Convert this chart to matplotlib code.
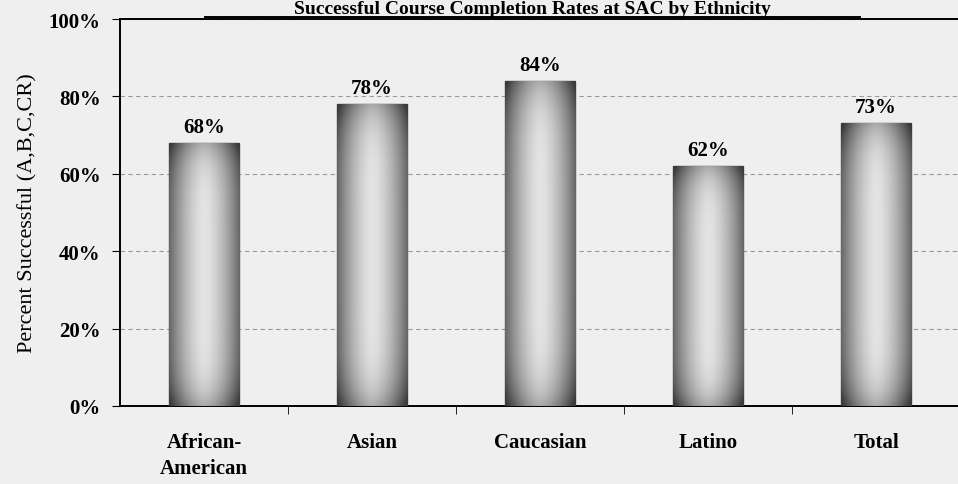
import matplotlib

matplotlib.use("Agg")

import matplotlib.pyplot as plt  # noqa: E402
import numpy as np  # noqa: E402
from matplotlib.colors import LinearSegmentedColormap  # noqa: E402

# ---- data ----------------------------------------------------------------
categories = ["African-\nAmerican", "Asian", "Caucasian", "Latino", "Total"]
success_rate = [68, 78, 84, 62, 73]
bar_labels = ["68%", "78%", "84%", "62%", "73%"]
y_ticks = [0, 20, 40, 60, 80, 100]

TITLE = "Successful Course Completion Rates at SAC by Ethnicity"
BG = "#efefef"
SERIF = ["Liberation Serif", "DejaVu Serif"]

plt.rcParams["font.family"] = SERIF

fig = plt.figure(figsize=(9.58, 4.85), dpi=100, facecolor=BG)
ax = fig.add_axes([120 / 958, 78 / 485, 840 / 958, 387 / 485])
ax.set_facecolor(BG)

x = np.arange(len(categories))
bars = ax.bar(x, success_rate, width=0.42, color="#9a9a9a",
              edgecolor="#4a4a4a", linewidth=1.0, zorder=3)

# shaded look: dark edges, pale centre (horizontal) and darker top/bottom
xs = np.linspace(-1, 1, 200)
ys = np.linspace(-1, 1, 200)
XX, YY = np.meshgrid(xs, ys)
shade = 1 - 0.75 * np.abs(XX) ** 1.6 - 0.35 * np.abs(YY) ** 6
cmap = LinearSegmentedColormap.from_list("bar", ["#3c3c3c", "#e4e4e4"])
for b in bars:
    x0, y0 = b.get_x(), b.get_y()
    im = ax.imshow(shade, cmap=cmap, vmin=0.0, vmax=1.0, aspect="auto",
                   extent=[x0, x0 + b.get_width(), y0, y0 + b.get_height()],
                   origin="lower", zorder=3, interpolation="bilinear")
    im.set_clip_path(b)

for xi, v, lab in zip(x, success_rate, bar_labels):
    ax.text(xi, v + 1.6, lab, ha="center", va="bottom", fontsize=15,
            fontweight="bold", zorder=5)

ax.set_xlim(-0.5, len(categories) - 0.5)
ax.set_ylim(0, 100)
ax.set_yticks(y_ticks)
ax.set_yticklabels([f"{t}%" for t in y_ticks], fontsize=15,
                   fontweight="bold")
ax.set_xticks(x)
ax.set_xticklabels(categories, fontsize=15, fontweight="bold",
                   linespacing=1.4)
ax.set_xticks(np.arange(len(categories)) + 0.5, minor=True)
ax.tick_params(axis="x", which="major", length=0, pad=19)
ax.tick_params(axis="x", which="minor", length=6, direction="out")
ax.tick_params(axis="y", length=6, direction="out", pad=8)

ax.grid(axis="y", color="#9a9a9a", linestyle=(0, (4, 3)), linewidth=0.8,
        zorder=0)
for side in ("left", "bottom", "top"):
    ax.spines[side].set_color("black")
    ax.spines[side].set_linewidth(1.4)
ax.spines["right"].set_visible(False)

ax.set_ylabel("Percent Successful (A,B,C,CR)", fontsize=16, labelpad=8)

# title at the very top, underlined
fig.text(532 / 958, 1 - 1 / 485, TITLE, ha="center", va="top",
         fontsize=14, fontweight="bold")
fig.add_artist(plt.Line2D([205 / 958, 860 / 958],
                          [1 - 17.5 / 485, 1 - 17.5 / 485],
                          color="black", linewidth=1.4))

fig.savefig("out.png", dpi=100, facecolor=BG)
